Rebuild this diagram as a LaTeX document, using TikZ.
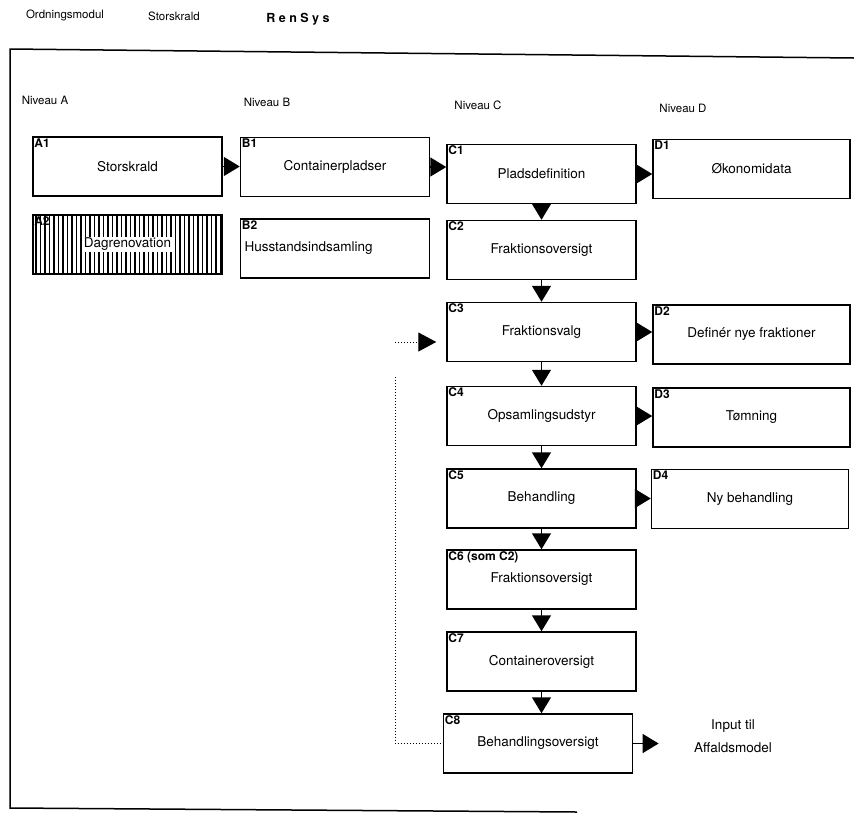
\documentclass[tikz,border=0pt]{standalone}
\usepackage{fontspec}
\setmainfont{TeX Gyre Heros}
\usetikzlibrary{arrows.meta,patterns.meta}

\tikzset{
  box/.style={draw, line width=1.5pt, minimum width=189pt, minimum height=59pt,
    inner sep=0pt, font=\fontsize{13.5}{15}\selectfont},
  tag/.style={anchor=north west, inner sep=2pt, font=\fontsize{12}{13}\selectfont\bfseries},
  head/.style={font=\fontsize{11.5}{13}\selectfont},
  flow/.style={line width=1.5pt, -{Triangle[length=16pt,width=19pt]}},
  hatch/.style={pattern={Lines[angle=90,distance=4.5pt,line width=1.8pt]}},
}

\begin{document}
\begin{tikzpicture}[x=1pt,y=-1pt]
  \useasboundingbox (0,0) rectangle (854,815);

  % titles
  \node[head] (ordn) at (65,15) {Ordningsmodul};
  \node[head] (stor) at (174,16) {Storskrald};
  \node[head, font=\fontsize{12.5}{14}\selectfont\bfseries] (rensys) at (298,19) {R e n S y s};

  % frame
  \draw[line width=1.5pt] (854,58) -- (10,49) -- (10,808) -- (577,812);

  % levels
  \node[head] (nivA) at (45,100) {Niveau A};
  \node[head] (nivB) at (267,102) {Niveau B};
  \node[head] (nivC) at (478,105) {Niveau C};
  \node[head] (nivD) at (683,108) {Niveau D};

  % niveau A and B
  \node[box, label={[tag]north west:A1}] (A1) at (127.5,166.5) {Storskrald};
  \node[box, hatch, label={[tag]north west:A2}] (A2) at (127.5,244.5) {};
  \node[fill=white, inner sep=1pt, font=\fontsize{13.5}{15}\selectfont] (A2txt) at (A2.center) {Dagrenovation};
  \node[box, label={[tag]north west:B1}] (B1) at (335,167) {Containerpladser};
  \node[box, text width=181pt, inner xsep=4pt, align=left,
    label={[tag]north west:B2}] (B2) at (335,248.5) {Husstandsindsamling};

  % niveau C
  \node[box, label={[tag]north west:C1}] (C1) at (541.5,174) {Pladsdefinition};
  \node[box, label={[tag]north west:C2}] (C2) at (541.5,250) {Fraktionsoversigt};
  \node[box, label={[tag]north west:C3}] (C3) at (541.5,332) {Fraktionsvalg};
  \node[box, label={[tag]north west:C4}] (C4) at (541.5,416) {Opsamlingsudstyr};
  \node[box, label={[tag]north west:C5}] (C5) at (541.5,498.5) {Behandling};
  \node[box, label={[tag]north west:C6 (som C2)}] (C6) at (541.5,579.5) {Fraktionsoversigt};
  \node[box, label={[tag]north west:C7}] (C7) at (541.5,661.5) {Containeroversigt};
  \node[box, label={[tag]north west:C8}] (C8) at (538,743.5) {Behandlingsoversigt};

  % niveau D
  \node[box, minimum width=197pt, label={[tag]north west:D1}] (D1) at (751.5,169) {Økonomidata};
  \node[box, minimum width=197pt, label={[tag]north west:D2}] (D2) at (751.5,334.5) {Definér nye fraktioner};
  \node[box, minimum width=197pt, label={[tag]north west:D3}] (D3) at (751.5,417.5) {Tømning};
  \node[box, minimum width=197pt, label={[tag]north west:D4}] (D4) at (750,499) {Ny behandling};

  \node[align=center, font=\fontsize{13.5}{23}\selectfont] (out) at (733,736) {Input til\\Affaldsmodel};

  % horizontal flow
  \draw[flow] (A1.east) -- (A1.east -| B1.west);
  \draw[flow] (B1.east) -- (B1.east -| C1.west);
  \draw[flow] (C1.east) -- (C1.east -| D1.west);
  \draw[flow] (C3.east) -- (C3.east -| D2.west);
  \draw[flow] (C4.east) -- (C4.east -| D3.west);
  \draw[flow] (C5.east) -- (C5.east -| D4.west);
  \draw[flow, shorten >=32pt] (C8.east) -- (C8.east -| out.west);

  % vertical flow
  \foreach \a/\b in {C1/C2,C2/C3,C3/C4,C4/C5,C5/C6,C6/C7,C7/C8}
    \draw[flow] (\a.south) -- (\a.south |- \b.north);

  % dotted return
  \coordinate (back) at (395,342);
  \coordinate (backtop) at (395,377);
  \draw[dotted, line width=1pt, -{Triangle[length=18pt,width=19pt]}, shorten >=10pt] (back) -- (back -| C3.west);
  \draw[dotted, line width=1pt] (backtop) |- (C8.west);
\end{tikzpicture}
\end{document}
